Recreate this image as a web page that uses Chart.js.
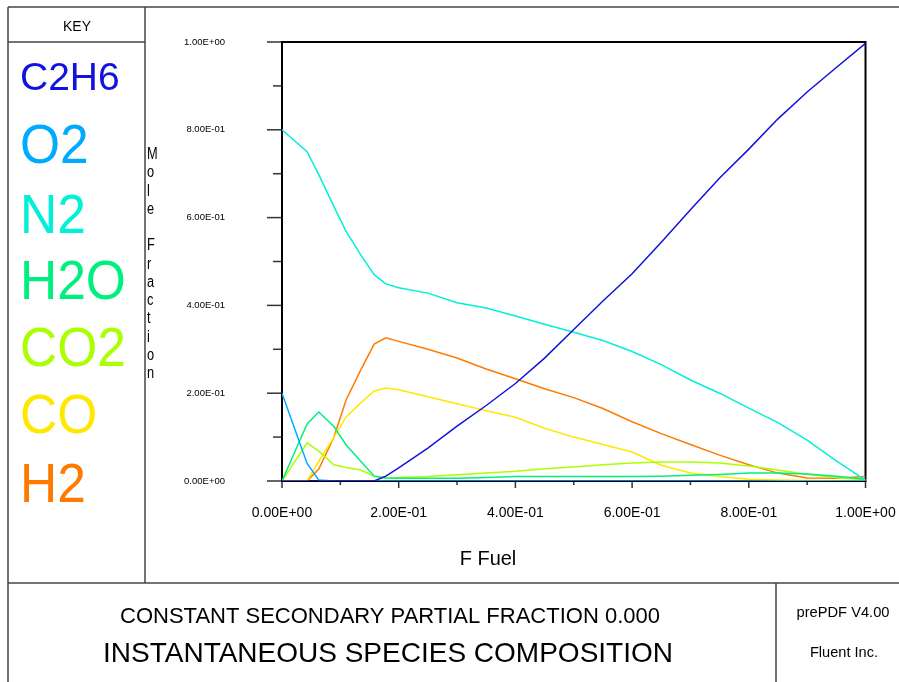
<!DOCTYPE html>
<html>
<head>
<meta charset="utf-8">
<script src="https://cdn.jsdelivr.net/npm/chart.js@4.4.0/dist/chart.umd.min.js"></script>
<style>
  body { margin: 0; background: #fff; }
</style>
</head>
<body>
<canvas id="speciesChart" width="899" height="682"></canvas>
<script>
// mixture fraction grid (F Fuel)
const fFuel = [0, 0.043, 0.063, 0.089, 0.11, 0.135, 0.158, 0.178, 0.2, 0.25, 0.3, 0.35, 0.4, 0.45, 0.5, 0.55, 0.6, 0.65, 0.7, 0.75, 0.8, 0.85, 0.9, 0.95, 1.0];

// mole fractions
const c2h6 = [0, 0, 0, 0, 0, 0, 0, 0.011, 0.03, 0.075, 0.125, 0.172, 0.222, 0.28, 0.345, 0.41, 0.472, 0.544, 0.618, 0.69, 0.756, 0.825, 0.886, 0.942, 0.997];
const o2   = [0.2, 0.04, 0.002, 0, 0, 0, 0, 0, 0, 0, 0, 0, 0, 0, 0, 0, 0, 0, 0, 0, 0, 0, 0, 0, 0];
const n2   = [0.8, 0.75, 0.698, 0.625, 0.568, 0.515, 0.47, 0.449, 0.44, 0.428, 0.406, 0.394, 0.376, 0.357, 0.339, 0.32, 0.295, 0.265, 0.23, 0.2, 0.166, 0.133, 0.093, 0.046, 0.002];
const h2o  = [0, 0.13, 0.157, 0.124, 0.082, 0.045, 0.011, 0.007, 0.006, 0.006, 0.006, 0.008, 0.01, 0.01, 0.01, 0.01, 0.01, 0.011, 0.013, 0.015, 0.018, 0.018, 0.016, 0.011, 0.004];
const co2  = [0, 0.087, 0.068, 0.037, 0.031, 0.025, 0.011, 0.007, 0.008, 0.01, 0.014, 0.018, 0.022, 0.028, 0.032, 0.037, 0.041, 0.043, 0.043, 0.041, 0.034, 0.025, 0.015, 0.008, 0.003];
const co   = [0, 0, 0.045, 0.1, 0.146, 0.178, 0.205, 0.212, 0.208, 0.192, 0.176, 0.16, 0.145, 0.12, 0.1, 0.083, 0.066, 0.036, 0.018, 0.01, 0.004, 0.002, 0.001, 0, 0];
const h2   = [0, 0, 0.027, 0.1, 0.185, 0.253, 0.312, 0.326, 0.318, 0.3, 0.28, 0.255, 0.233, 0.21, 0.19, 0.165, 0.135, 0.108, 0.083, 0.059, 0.037, 0.018, 0.007, 0.006, 0.01];

const species = ['C2H6', 'O2', 'N2', 'H2O', 'CO2', 'CO', 'H2'];
const speciesData = [c2h6, o2, n2, h2o, co2, co, h2];
const speciesColors = ['#1212e0', '#00aaff', '#00f0d8', '#00f080', '#aaff00', '#ffe800', '#ff7a00'];

const yTickLabels = ['0.00E+00', '2.00E-01', '4.00E-01', '6.00E-01', '8.00E-01', '1.00E+00'];
const xTickLabels = ['0.00E+00', '2.00E-01', '4.00E-01', '6.00E-01', '8.00E-01', '1.00E+00'];

const FONT = '"Liberation Sans", Arial, sans-serif';

function drawText(ctx, text, x, y, size, color, align, sx) {
    ctx.save();
    ctx.translate(x, y);
    ctx.scale(sx || 1, 1);
    ctx.font = size + 'px ' + FONT;
    ctx.fillStyle = color;
    ctx.textAlign = align || 'left';
    ctx.textBaseline = 'alphabetic';
    ctx.fillText(text, 0, 0);
    ctx.restore();
}

function line(ctx, x1, y1, x2, y2) {
    ctx.beginPath();
    ctx.moveTo(x1, y1);
    ctx.lineTo(x2, y2);
    ctx.stroke();
}

// plot frame + tick marks, under the curves
const axesFrame = {
    id: 'axesFrame',
    beforeDatasetsDraw(chart) {
        const { ctx, chartArea: a, scales } = chart;
        ctx.save();
        ctx.strokeStyle = '#333';
        ctx.lineWidth = 1.5;
        for (let i = 0; i <= 10; i++) {
            const v = i / 10;
            const py = scales.y.getPixelForValue(v);
            line(ctx, i % 2 === 0 ? a.left - 15 : a.left - 9, py, a.left, py);
            const px = scales.x.getPixelForValue(v);
            line(ctx, px, a.bottom, px, a.bottom + (i % 2 === 0 ? 7 : 4));
        }
        ctx.strokeStyle = '#000';
        ctx.lineWidth = 2;
        ctx.strokeRect(a.left, a.top, a.right - a.left, a.bottom - a.top);
        ctx.restore();
    }
};

// page furniture: boxes, key, titles
const pageFrame = {
    id: 'pageFrame',
    afterDraw(chart) {
        const ctx = chart.ctx;
        ctx.save();
        ctx.strokeStyle = '#444';
        ctx.lineWidth = 1.5;
        line(ctx, 8, 7, 899, 7);
        line(ctx, 8, 7, 8, 682);
        line(ctx, 145, 7, 145, 583);
        line(ctx, 8, 42, 145, 42);
        line(ctx, 8, 583, 899, 583);
        line(ctx, 776, 583, 776, 682);
        ctx.restore();

        drawText(ctx, 'KEY', 77, 31, 14, '#000', 'center');

        const keyBase = [90, 163, 233, 299, 366, 433, 502];
        species.forEach((name, i) => {
            if (i === 0) drawText(ctx, name, 20, keyBase[i], 39, speciesColors[i], 'left');
            else drawText(ctx, name, 20, keyBase[i], 56, speciesColors[i], 'left', 0.92);
        });

        const title = 'Mole Fraction'.split('');
        title.forEach((ch, i) => {
            drawText(ctx, ch, 147, 159 + i * 18.25, 16, '#000', 'left', 0.8);
        });

        drawText(ctx, 'F Fuel', 488, 565, 21, '#000', 'center', 0.95);
        drawText(ctx, 'CONSTANT SECONDARY PARTIAL FRACTION 0.000', 390, 623, 22, '#000', 'center');
        drawText(ctx, 'INSTANTANEOUS SPECIES COMPOSITION', 388, 662, 28, '#000', 'center');
        drawText(ctx, 'prePDF V4.00', 843, 617, 14.7, '#000', 'center');
        drawText(ctx, 'Fluent Inc.', 844, 657, 14.6, '#000', 'center');
    }
};

const ctx = document.getElementById('speciesChart').getContext('2d');

new Chart(ctx, {
    type: 'line',
    data: {
        datasets: species.map((name, i) => ({
            label: name,
            data: fFuel.map((f, j) => ({ x: f, y: speciesData[i][j] })),
            borderColor: speciesColors[i],
            borderWidth: 1.5,
            pointRadius: 0,
            tension: 0,
            fill: false,
            order: i
        }))
    },
    options: {
        responsive: false,
        animation: false,
        layout: { padding: { top: 42, right: 33.5, left: 0, bottom: 0 } },
        plugins: {
            legend: { display: false },
            tooltip: { enabled: false }
        },
        scales: {
            x: {
                type: 'linear',
                min: 0,
                max: 1,
                grid: { display: false, drawTicks: false },
                border: { display: false },
                ticks: {
                    stepSize: 0.1,
                    autoSkip: false,
                    maxRotation: 0,
                    padding: 24,
                    color: '#000',
                    font: { size: 14, family: FONT },
                    callback: (v, i) => (i % 2 === 0 ? xTickLabels[i / 2] : '')
                },
                afterFit: (s) => {
                    s.height = 201;
                    s.paddingLeft = 0;
                    s.paddingRight = 0;
                }
            },
            y: {
                type: 'linear',
                min: 0,
                max: 1,
                grid: { display: false, drawTicks: false },
                border: { display: false },
                ticks: {
                    stepSize: 0.1,
                    autoSkip: false,
                    padding: 57,
                    color: '#000',
                    font: { size: 9.5, family: FONT },
                    callback: (v, i) => (i % 2 === 0 ? yTickLabels[i / 2] : '')
                },
                afterFit: (s) => {
                    s.width = 282;
                    s.paddingTop = 0;
                    s.paddingBottom = 0;
                }
            }
        }
    },
    plugins: [axesFrame, pageFrame]
});
</script>
</body>
</html>
